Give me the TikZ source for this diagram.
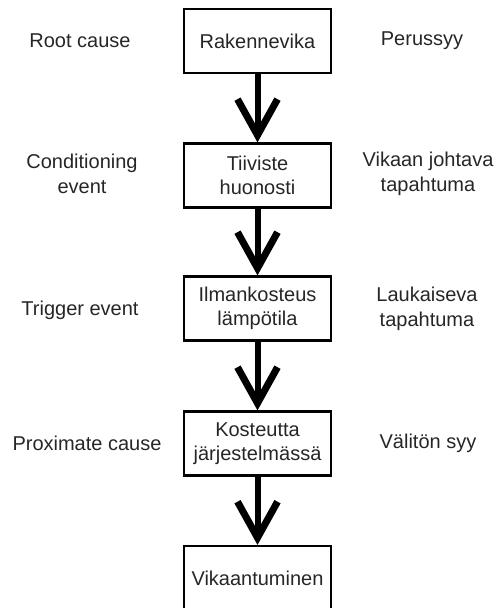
\documentclass[tikz,border=0pt]{standalone}
\usepackage{fontspec}
\setmainfont{Liberation Sans}
\usetikzlibrary{arrows.meta}

\tikzset{
  stage/.style={draw, line width=2.2pt, minimum width=147pt, minimum height=64pt,
    inner sep=0pt, align=center, text=black!85, font=\fontsize{20}{24}\selectfont},
  side/.style={align=center, text=black!85, font=\fontsize{20}{25}\selectfont},
  flow/.style={line width=6pt, -{Straight Barb[length=36pt, width=40pt, line width=7pt]}}
}

\begin{document}
\begin{tikzpicture}[x=1pt, y=-1pt]
\useasboundingbox (0,0) rectangle (497,608);
\clip (0,0) rectangle (497,608);
% chain of stages
\node[stage] (b1) at (257.5,41) {Rakennevika};
\node[stage] (b2) at (257.5,175.5) {Tiiviste\\huonosti};
\node[stage] (b3) at (257.5,308.5) {Ilmankosteus\\lämpötila};
\node[stage] (b4) at (257.5,443.5) {Kosteutta\\järjestelmässä};
\node[stage] (b5) at (257.5,578) {Vikaantuminen};
% english terms
\node[side] (e1) at (80,41) {Root cause};
\node[side] (e2) at (82,173.5) {Conditioning\\event};
\node[side] (e3) at (80,310) {Trigger event};
\node[side] (e4) at (87,443) {Proximate cause};
% finnish terms
\node[side] (f1) at (422,41) {Perussyy};
\node[side] (f2) at (428,173.5) {Vikaan johtava\\tapahtuma};
\node[side] (f3) at (427,308.5) {Laukaiseva\\tapahtuma};
\node[side] (f4) at (428,443) {Välitön syy};
% arrows
\draw[flow] (b1) -- (b2);
\draw[flow] (b2) -- (b3);
\draw[flow] (b3) -- (b4);
\draw[flow] (b4) -- (b5);
\end{tikzpicture}
\end{document}
